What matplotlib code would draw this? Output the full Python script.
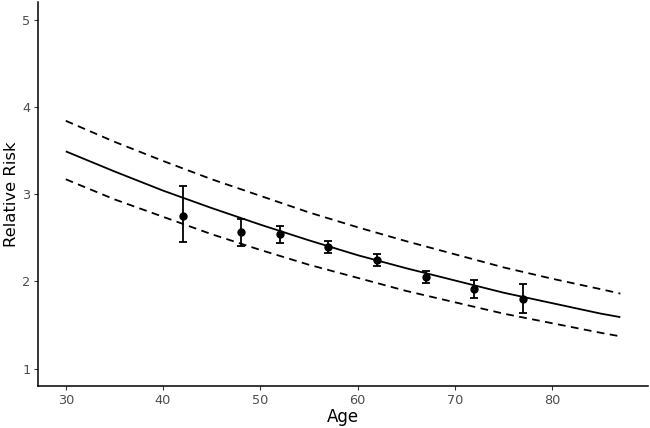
import matplotlib
matplotlib.use("Agg")
import matplotlib.pyplot as plt

# Curve
curve_age = [30, 35, 40, 45, 50, 55, 60, 65, 70, 75, 80, 85, 87]
rr_fit = [3.49, 3.26, 3.04, 2.84, 2.65, 2.47, 2.30, 2.15, 2.01, 1.87, 1.75, 1.63, 1.59]
rr_upper = [3.84, 3.60, 3.38, 3.17, 2.98, 2.79, 2.62, 2.46, 2.31, 2.16, 2.03, 1.91, 1.86]
rr_lower = [3.17, 2.94, 2.74, 2.54, 2.36, 2.19, 2.04, 1.89, 1.76, 1.63, 1.52, 1.41, 1.37]

# Observed points
pt_age = [42, 48, 52, 57, 62, 67, 72, 77]
pt_rr = [2.75, 2.56, 2.54, 2.39, 2.25, 2.05, 1.91, 1.80]
pt_lo = [2.45, 2.41, 2.44, 2.32, 2.18, 1.98, 1.81, 1.64]
pt_hi = [3.09, 2.72, 2.64, 2.46, 2.31, 2.12, 2.01, 1.97]

x_ticks = [30, 40, 50, 60, 70, 80]
y_ticks = [1, 2, 3, 4, 5]

fig = plt.figure(figsize=(6.5, 4.28), dpi=100)
ax = fig.add_axes([0.0585, 0.098, 0.9385, 0.897])

ax.plot(curve_age, rr_fit, color="black", lw=1.3, solid_capstyle="butt")
ax.plot(curve_age, rr_upper, color="black", lw=1.3, linestyle=(0, (4.3, 3.0)))
ax.plot(curve_age, rr_lower, color="black", lw=1.3, linestyle=(0, (4.3, 3.0)))

yerr = [[r - l for r, l in zip(pt_rr, pt_lo)], [h - r for r, h in zip(pt_rr, pt_hi)]]
ax.errorbar(pt_age, pt_rr, yerr=yerr, fmt="o", color="black", ms=5,
            elinewidth=1.3, capsize=3, capthick=1.3)

ax.set_xlim(27.15, 89.85)
ax.set_ylim(0.8, 5.2)
ax.set_xticks(x_ticks)
ax.set_yticks(y_ticks)
for s in ["top", "right"]:
    ax.spines[s].set_visible(False)
for s in ["left", "bottom"]:
    ax.spines[s].set_linewidth(1.1)
    ax.spines[s].set_color("black")
ax.tick_params(axis="both", length=3, width=0.8, color="#333333",
               labelcolor="#4d4d4d", labelsize=9.3, pad=2.5)
ax.set_xlabel("Age", fontsize=12)
ax.set_ylabel("Relative Risk", fontsize=11.8)
ax.xaxis.set_label_coords(0.5, -0.058)
ax.yaxis.set_label_coords(-0.032, 0.5)

fig.savefig("out.png", dpi=100)
